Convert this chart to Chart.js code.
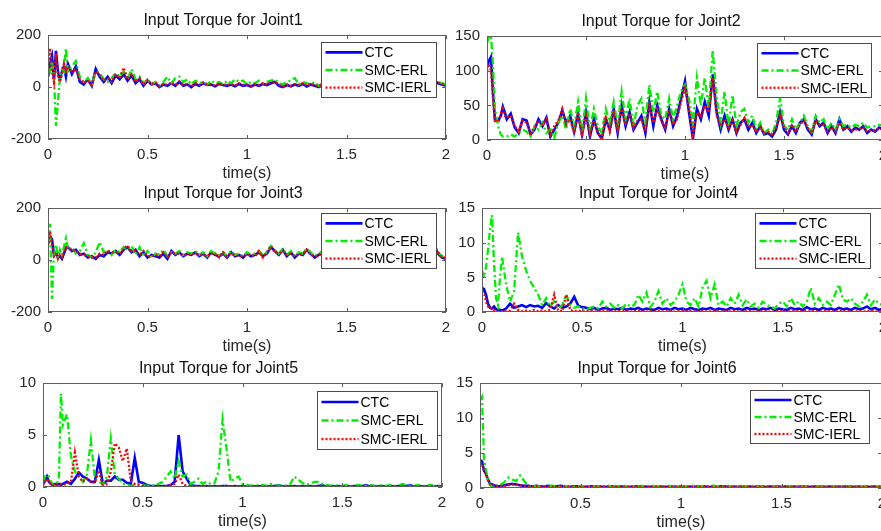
<!DOCTYPE html>
<html>
<head>
<meta charset="utf-8">
<script src="https://cdn.jsdelivr.net/npm/chart.js@4.4.1/dist/chart.umd.min.js"></script>
<style>
  html, body { margin: 0; padding: 0; background: #fff; }
  body { width: 881px; height: 531px; overflow: hidden; position: relative; }
  canvas { position: absolute; }
</style>
</head>
<body>
<canvas id="c1"></canvas>
<canvas id="c2"></canvas>
<canvas id="c3"></canvas>
<canvas id="c4"></canvas>
<canvas id="c5"></canvas>
<canvas id="c6"></canvas>
<script>
// time samples (s): 0.01 step up to 0.1, then 0.02 step
const t = [0, 0.01, 0.02, 0.03, 0.04, 0.05, 0.06, 0.07, 0.08, 0.09, 0.1,
  0.12, 0.14, 0.16, 0.18, 0.2, 0.22, 0.24, 0.26, 0.28, 0.3,
  0.32, 0.34, 0.36, 0.38, 0.4, 0.42, 0.44, 0.46, 0.48, 0.5,
  0.52, 0.54, 0.56, 0.58, 0.6, 0.62, 0.64, 0.66, 0.68, 0.7,
  0.72, 0.74, 0.76, 0.78, 0.8, 0.82, 0.84, 0.86, 0.88, 0.9,
  0.92, 0.94, 0.96, 0.98, 1.0, 1.02, 1.04, 1.06, 1.08, 1.1,
  1.12, 1.14, 1.16, 1.18, 1.2, 1.22, 1.24, 1.26, 1.28, 1.3,
  1.32, 1.34, 1.36, 1.38, 1.4, 1.42, 1.44, 1.46, 1.48, 1.5,
  1.52, 1.54, 1.56, 1.58, 1.6, 1.62, 1.64, 1.66, 1.68, 1.7,
  1.72, 1.74, 1.76, 1.78, 1.8, 1.82, 1.84, 1.86, 1.88, 1.9,
  1.92, 1.94, 1.96, 1.98, 2.0];

const seriesNames = ['CTC', 'SMC-ERL', 'SMC-IERL'];
const titles = ['Input Torque for Joint1', 'Input Torque for Joint2', 'Input Torque for Joint3',
  'Input Torque for Joint4', 'Input Torque for Joint5', 'Input Torque for Joint6'];
const xTicks = [0, 0.5, 1, 1.5, 2];
const yTicks1 = [-200, 0, 200];
const yTicks2 = [0, 50, 100, 150];
const yTicks3 = [-200, 0, 200];
const yTicks4 = [0, 5, 10, 15];
const yTicks5 = [0, 5, 10];
const yTicks6 = [0, 5, 10, 15];

// Joint 1
const j1Ctc = [40, 90, 120, 30, 140, 60, 30, 60, 80, 40, 90,
  50, 80, 20, 10, 30, 5, 70, 40, 20, 40,
  15, 45, 30, 50, 25, 45, 15, 30, 5, 25,
  10, 15, 0, 10, 5, 15, 5, 20, 5, 10,
  0, 12, 5, 15, 8, 10, 3, 12, 8, 5,
  10, 3, 12, 5, 8, 2, 10, 5, 12, 8,
  15, 20, 5, 0, 8, 3, 10, 5, 12, 2,
  10, 5, 0, 8, 5, 10, 3, 8, 5, 10,
  5, 12, 3, 8, 10, 5, 12, 3, 8, 5,
  10, 5, 8, 12, 3, 8, 5, 10, 15, 8,
  20, 25, 15, 10, 5];
const j1Erl = [70, 60, 100, 40, -150, -60, 40, 70, 60, 150, 60,
  80, 100, 40, 20, 35, 10, 60, 55, 30, 20,
  35, 55, 40, 60, 30, 70, 30, 40, 15, 30,
  10, 20, 5, 20, 40, 15, 35, 40, 20, 30,
  10, 25, 15, 20, 10, 25, 15, 20, 10, 25,
  15, 30, 20, 25, 10, 20, 15, 25, 15, 20,
  25, 30, 15, 10, 20, 25, 35, 10, 20, 15,
  10, 20, 5, 15, 20, 10, 15, 10, 15, 20,
  10, 20, 15, 10, 20, 15, 10, 15, 20, 10,
  15, 20, 10, 15, 20, 10, 15, 20, 25, 20,
  30, 25, 20, 15, 10];
const j1Ierl = [60, 150, 60, 20, 130, 40, 20, 50, 90, 60, 80,
  60, 70, 30, 15, 25, 10, 60, 45, 25, 35,
  20, 50, 35, 75, 30, 50, 20, 35, 10, 28,
  12, 18, 3, 12, 8, 18, 8, 22, 8, 12,
  3, 15, 8, 18, 10, 12, 5, 15, 10, 8,
  12, 5, 15, 8, 10, 5, 12, 8, 15, 10,
  18, 22, 8, 3, 10, 5, 12, 8, 15, 5,
  12, 8, 3, 10, 8, 12, 5, 10, 8, 12,
  8, 15, 5, 10, 12, 8, 15, 5, 10, 8,
  12, 8, 10, 15, 5, 10, 8, 12, 18, 10,
  25, 28, 18, 12, 8];

// Joint 2
const j2Ctc = [105, 115, 120, 70, 30, 28, 30, 35, 48, 40, 30,
  38, 18, 10, 30, 28, 8, 15, 30, 20, 32,
  5, 15, 25, 42, 25, 35, 12, 38, 8, 40,
  5, 30, 10, 2, 30, 15, 45, 10, 50, 20,
  40, 15, 25, 35, 10, 55, 20, 50, 30, 15,
  45, 20, 35, 60, 85, 40, 2, 45, 30, 55,
  35, 95, 40, 15, 35, 15, 30, 10, 25, 30,
  15, 25, 10, 20, 8, 10, 5, 15, 40, 15,
  8, 20, 10, 25, 30, 15, 8, 30, 20, 25,
  10, 20, 10, 30, 15, 20, 12, 18, 15, 20,
  10, 15, 12, 18, 15];
const j2Erl = [140, 150, 150, 110, 45, 30, 15, 8, 5, 5, 5,
  8, 5, 10, 15, 12, 5, 20, 15, 25, 10,
  15, 3, 25, 35, 15, 45, 20, 55, 10, 60,
  15, 45, 20, 10, 45, 25, 55, 20, 70, 30,
  60, 20, 50, 60, 25, 80, 40, 70, 35, 30,
  60, 30, 50, 70, 80, 60, 25, 90, 50, 90,
  45, 130, 60, 25, 70, 20, 65, 20, 40, 45,
  25, 35, 15, 25, 10, 15, 8, 25, 60, 20,
  15, 30, 15, 25, 35, 20, 12, 35, 25, 30,
  15, 25, 15, 30, 20, 22, 18, 22, 20, 25,
  18, 20, 20, 22, 20];
const j2Ierl = [100, 110, 100, 60, 25, 30, 28, 38, 45, 35, 32,
  35, 20, 12, 28, 25, 10, 18, 28, 22, 30,
  8, 20, 28, 45, 22, 30, 10, 40, 5, 35,
  8, 28, 12, 0, 35, 12, 40, 15, 45, 22,
  38, 18, 28, 30, 12, 50, 25, 45, 28, 18,
  40, 22, 30, 55, 75, 45, 8, 40, 35, 50,
  40, 90, 35, 20, 30, 18, 28, 12, 22, 32,
  18, 22, 12, 18, 10, 12, 8, 18, 35, 18,
  10, 22, 12, 22, 28, 18, 10, 28, 22, 22,
  12, 18, 12, 25, 15, 18, 14, 15, 16, 18,
  12, 14, 14, 16, 15];

// Joint 3
const j3Ctc = [60, 90, 80, 20, 30, 10, 15, 5, 25, 45, 50,
  35, 40, 20, 25, 10, 15, 5, 20, 15, 30,
  25, 35, 20, 40, 50, 30, 40, 15, 30, 10,
  20, 15, 10, 25, 5, 35, 20, 30, 15, 25,
  20, 30, 15, 25, 10, 30, 20, 15, 25, 10,
  30, 15, 20, 10, 25, 15, 20, 30, 15, 25,
  50, 35, 20, 40, 15, 30, 10, 25, 20, 40,
  25, 10, 20, 30, 15, 25, 20, 10, 25, 15,
  20, 30, 15, 25, 10, 20, 30, 15, 25, 20,
  15, 25, 20, 30, 15, 20, 25, 15, 30, 20,
  35, 55, 25, 10, 5];
const j3Erl = [70, 140, -150, 20, 60, 10, 40, 20, 50, 83, 40,
  50, 25, 35, 65, 20, 10, 30, 70, 30, 40,
  20, 40, 30, 50, 40, 55, 20, 50, 15, 35,
  10, 25, 20, 40, 15, 30, 25, 35, 20, 30,
  25, 35, 20, 30, 15, 35, 25, 20, 30, 15,
  35, 20, 25, 15, 30, 20, 25, 35, 20, 30,
  55, 40, 25, 45, 20, 35, 15, 30, 25, 45,
  30, 15, 25, 35, 20, 30, 25, 15, 30, 20,
  25, 35, 20, 30, 15, 25, 35, 20, 30, 25,
  20, 30, 25, 35, 20, 25, 30, 20, 35, 25,
  40, 60, 30, 15, 10];
const j3Ierl = [50, 110, 60, 15, 25, 5, 20, 10, 30, 50, 45,
  40, 35, 25, 20, 15, 10, 10, 25, 20, 35,
  30, 30, 25, 45, 55, 35, 35, 20, 35, 15,
  15, 20, 15, 30, 10, 30, 25, 25, 20, 20,
  25, 25, 20, 20, 15, 25, 25, 10, 30, 15,
  25, 20, 15, 15, 20, 20, 15, 35, 10, 30,
  55, 30, 25, 35, 20, 25, 15, 20, 25, 40,
  20, 15, 15, 35, 10, 30, 15, 15, 20, 20,
  15, 35, 10, 30, 15, 15, 35, 10, 30, 15,
  20, 20, 25, 25, 20, 15, 30, 10, 35, 15,
  40, 60, 30, 12, 8];

// Joint 4
const j4Ctc = [3.5, 3.3, 2.5, 1.2, 0.6, 0.5, 0.8, 0.4, 0.3, 0.3, 0.2,
  0.5, 1.2, 0.6, 0.8, 1.0, 0.7, 1.0, 0.8, 0.9, 0.6,
  1.3, 0.8, 0.5, 1.0, 0.6, 0.8, 1.2, 2.2, 0.9, 0.7,
  0.6, 0.4, 0.6, 0.3, 0.5, 0.6, 0.3, 0.5, 0.4, 0.6,
  0.3, 0.5, 0.4, 0.6, 0.3, 0.5, 0.4, 0.3, 0.6, 0.4,
  0.5, 0.3, 0.6, 0.4, 0.5, 0.3, 0.6, 0.4, 0.3, 0.5,
  0.4, 0.6, 0.3, 0.5, 0.4, 0.3, 0.6, 0.4, 0.5, 0.3,
  0.6, 0.4, 0.5, 0.3, 0.5, 0.4, 0.6, 0.3, 0.5, 0.4,
  0.3, 0.6, 0.4, 0.5, 0.3, 0.7, 0.4, 0.5, 0.3, 0.6,
  0.4, 0.5, 0.3, 0.6, 0.4, 0.5, 0.3, 0.6, 0.4, 0.5,
  0.8, 0.4, 0.6, 0.3, 0.5];
const j4Erl = [6, 5, 6.5, 9, 12, 14, 7, 2, 1, 5, 8,
  4, 1.5, 3, 11.5, 8, 6, 4.5, 3.5, 2.5, 1,
  2, 0.8, 1.5, 0.5, 1, 2.5, 1, 0.6, 0.8, 0.5,
  0.4, 0.6, 0.8, 0.5, 1.5, 0.8, 1.2, 0.6, 1.0, 0.5,
  1.2, 0.8, 1.0, 2.5, 1.5, 2.8, 0.7, 1.5, 3.0, 1.2,
  2.0, 1.0, 1.5, 2.5, 4.0, 1.5, 1.0, 2.0, 0.8, 3.5,
  4.5, 2.0, 4.0, 1.0, 1.5, 0.8, 2.0, 1.2, 2.5, 1.0,
  1.8, 0.8, 1.2, 0.6, 1.5, 1.0, 0.8, 0.5, 1.2, 1.5,
  0.8, 2.0, 1.0, 1.5, 0.8, 1.5, 3.5, 1.2, 2.0, 1.0,
  1.5, 1.0, 2.5, 4.0, 1.8, 1.5, 2.0, 1.2, 0.8, 1.5,
  2.5, 1.0, 1.8, 1.2, 1.0];
const j4Ierl = [3.0, 2.8, 1.5, 0.8, 0.5, 0.6, 0.3, 0.1, 0.05, 0.1, 0.05,
  0.1, 0.2, 1.2, 0.3, 0.1, 0.2, 0.1, 0.3, 0.1, 0.2,
  0.1, 0.3, 2.5, 0.2, 0.1, 2.5, 0.3, 0.1, 0.2, 0.1,
  0.1, 0.2, 0.05, 0.15, 0.1, 0.2, 0.05, 0.1, 0.15, 0.1,
  0.2, 0.05, 0.1, 0.15, 0.1, 0.05, 0.2, 0.1, 0.15, 0.05,
  0.1, 0.2, 0.05, 0.1, 0.15, 0.1, 0.2, 0.05, 0.1, 0.15,
  0.05, 0.1, 0.2, 0.1, 0.05, 0.15, 0.1, 0.2, 0.05, 0.1,
  0.15, 0.1, 0.05, 0.2, 0.1, 0.15, 0.05, 0.1, 0.2, 0.1,
  0.1, 0.05, 0.15, 0.1, 0.2, 0.05, 0.1, 0.15, 0.1, 0.05,
  0.2, 0.1, 0.05, 0.15, 0.1, 0.2, 0.1, 0.05, 0.15, 0.1,
  0.1, 0.2, 0.05, 0.1, 0.15];

// Joint 5
const j5Ctc = [0.3, 0.6, 1.0, 0.5, 0.3, 0.2, 0.3, 0.2, 0.3, 0.2, 0.3,
  0.5, 0.3, 0.8, 1.4, 1.0, 0.8, 0.5, 0.5, 2.6, 0.3,
  0.6, 0.6, 1.0, 0.7, 0.7, 0.4, 0.3, 2.8, 0.5, 0.4,
  0.2, 0.1, 0.1, 0.1, 0.1, 0.1, 0.2, 0.5, 5.0, 1.5,
  0.8, 0.2, 0.1, 0.1, 0.05, 0.1, 0.05, 0.1, 0.05, 0.1,
  0.1, 0.05, 0.1, 0.05, 0.1, 0.05, 0.1, 0.05, 0.1, 0.05,
  0.1, 0.05, 0.1, 0.15, 0.05, 0.1, 0.05, 0.1, 0.05, 0.1,
  0.05, 0.1, 0.05, 0.1, 0.15, 0.05, 0.1, 0.05, 0.1, 0.05,
  0.1, 0.05, 0.1, 0.05, 0.1, 0.15, 0.05, 0.1, 0.05, 0.1,
  0.05, 0.1, 0.05, 0.1, 0.05, 0.1, 0.15, 0.05, 0.1, 0.05,
  0.05, 0.1, 0.05, 0.1, 0.05];
const j5Erl = [0.5, 1.0, 1.2, 1.0, 0.5, 0.3, 0.2, 0.3, 1.0, 9.0, 6.0,
  7.0, 3.0, 1.5, 1.0, 0.5, 1.2, 4.5, 0.8, 0.5, 0.3,
  1.0, 4.7, 1.2, 0.8, 0.3, 0.2, 0.1, 0.2, 0.3, 0.2,
  0.1, 0.2, 0.1, 0.3, 0.5, 1.0, 1.5, 0.8, 2.5, 1.0,
  1.2, 0.3, 0.5, 0.8, 0.3, 0.5, 0.3, 0.4, 1.5, 6.5,
  3.7, 0.5, 0.8, 1.0, 0.3, 0.2, 0.1, 0.2, 0.1, 0.2,
  0.1, 0.3, 0.2, 0.1, 0.2, 0.1, 0.3, 1.0, 0.7, 0.4,
  0.2, 0.3, 0.5, 0.5, 0.3, 0.2, 0.1, 0.2, 0.1, 0.1,
  0.2, 0.1, 0.1, 0.2, 0.1, 0.1, 0.2, 0.1, 0.1, 0.2,
  0.1, 0.2, 0.1, 0.1, 0.3, 0.2, 0.1, 0.1, 0.2, 0.1,
  0.1, 0.2, 0.1, 0.1, 0.1];
const j5Ierl = [0.2, 0.5, 0.8, 0.5, 0.3, 0.2, 0.3, 0.2, 0.2, 0.3, 0.2,
  0.3, 0.5, 3.3, 1.0, 0.5, 0.8, 0.5, 0.4, 1.6, 0.0,
  0.3, 1.5, 4.2, 3.8, 2.5, 3.7, 0.6, 0.3, 0.2, 0.1,
  0.05, 0.05, 0.05, 0.1, 0.05, 0.1, 0.2, 0.3, 1.2, 0.3,
  0.1, 0.05, 0.05, 0.1, 0.05, 0.05, 0.1, 0.05, 0.05, 0.1,
  0.05, 0.1, 0.05, 0.05, 0.1, 0.05, 0.05, 0.1, 0.05, 0.05,
  0.1, 0.05, 0.05, 0.1, 0.05, 0.05, 0.1, 0.05, 0.1, 0.05,
  0.05, 0.1, 0.05, 0.05, 0.1, 0.05, 0.05, 0.1, 0.05, 0.05,
  0.1, 0.05, 0.05, 0.1, 0.05, 0.05, 0.1, 0.05, 0.05, 0.1,
  0.05, 0.05, 0.1, 0.05, 0.05, 0.1, 0.05, 0.05, 0.1, 0.05,
  0.05, 0.1, 0.05, 0.05, 0.1];

// Joint 6
const j6Ctc = [4.0, 3.8, 2.5, 2.0, 1.2, 0.6, 0.5, 0.4, 0.3, 0.2, 0.3,
  0.4, 0.5, 0.6, 0.5, 0.4, 0.3, 0.3, 0.2, 0.3, 0.2,
  0.2, 0.3, 0.2, 0.25, 0.3, 0.2, 0.15, 0.2, 0.25, 0.2,
  0.15, 0.2, 0.25, 0.15, 0.2, 0.15, 0.2, 0.25, 0.15, 0.2,
  0.2, 0.15, 0.2, 0.25, 0.15, 0.2, 0.15, 0.2, 0.15, 0.2,
  0.15, 0.2, 0.25, 0.15, 0.2, 0.15, 0.2, 0.15, 0.2, 0.25,
  0.2, 0.15, 0.2, 0.15, 0.25, 0.2, 0.15, 0.2, 0.15, 0.2,
  0.15, 0.2, 0.15, 0.2, 0.25, 0.15, 0.2, 0.15, 0.2, 0.15,
  0.2, 0.15, 0.2, 0.15, 0.2, 0.25, 0.15, 0.2, 0.15, 0.2,
  0.15, 0.2, 0.15, 0.2, 0.15, 0.2, 0.25, 0.15, 0.2, 0.15,
  0.2, 0.15, 0.2, 0.15, 0.2];
const j6Erl = [12.5, 13.0, 4.0, 2.5, 1.2, 0.5, 0.1, 0.2, 0.3, 0.5, 0.4,
  0.8, 1.5, 1.2, 1.0, 1.8, 1.0, 0.3, 0.2, 0.3, 0.2,
  0.2, 0.3, 0.35, 0.25, 0.2, 0.3, 0.2, 0.15, 0.2, 0.3,
  0.2, 0.25, 0.3, 0.2, 0.15, 0.25, 0.3, 0.2, 0.25, 0.2,
  0.3, 0.2, 0.25, 0.2, 0.3, 0.25, 0.2, 0.3, 0.2, 0.25,
  0.2, 0.3, 0.25, 0.2, 0.3, 0.2, 0.25, 0.3, 0.2, 0.25,
  0.3, 0.2, 0.35, 0.2, 0.25, 0.2, 0.3, 0.2, 0.25, 0.2,
  0.25, 0.2, 0.3, 0.2, 0.25, 0.3, 0.2, 0.25, 0.2, 0.3,
  0.2, 0.25, 0.2, 0.3, 0.2, 0.25, 0.2, 0.3, 0.25, 0.2,
  0.3, 0.2, 0.25, 0.2, 0.3, 0.2, 0.25, 0.2, 0.3, 0.2,
  0.25, 0.2, 0.3, 0.2, 0.25];
const j6Ierl = [3.5, 3.6, 2.4, 2.0, 1.0, 0.5, 0.5, 0.3, 0.3, 0.3, 0.3,
  0.3, 0.4, 0.5, 0.5, 0.4, 0.3, 0.3, 0.2, 0.3, 0.2,
  0.2, 0.25, 0.2, 0.2, 0.3, 0.15, 0.2, 0.25, 0.2, 0.15,
  0.2, 0.15, 0.2, 0.25, 0.15, 0.2, 0.15, 0.2, 0.2, 0.15,
  0.15, 0.2, 0.15, 0.2, 0.2, 0.15, 0.2, 0.15, 0.2, 0.15,
  0.2, 0.15, 0.2, 0.15, 0.2, 0.2, 0.15, 0.2, 0.15, 0.2,
  0.15, 0.2, 0.15, 0.2, 0.15, 0.2, 0.2, 0.15, 0.2, 0.15,
  0.2, 0.15, 0.2, 0.15, 0.2, 0.15, 0.2, 0.2, 0.15, 0.2,
  0.15, 0.2, 0.15, 0.2, 0.15, 0.2, 0.15, 0.2, 0.2, 0.15,
  0.2, 0.15, 0.2, 0.15, 0.2, 0.15, 0.2, 0.15, 0.2, 0.2,
  0.15, 0.2, 0.15, 0.2, 0.15];

// MATLAB-like box with inward ticks
const axesBox = {
  id: 'axesBox',
  afterDraw(chart) {
    const { ctx, chartArea: a, scales } = chart;
    ctx.save();
    ctx.strokeStyle = '#5e5e5e';
    ctx.lineWidth = 1;
    ctx.strokeRect(Math.round(a.left) + 0.5, Math.round(a.top) + 0.5,
      Math.round(a.right - a.left) - 1, Math.round(a.bottom - a.top) - 1);
    ctx.beginPath();
    scales.x.ticks.forEach(tk => {
      const px = Math.round(scales.x.getPixelForValue(tk.value)) + 0.5;
      ctx.moveTo(px, a.bottom); ctx.lineTo(px, a.bottom - 4);
      ctx.moveTo(px, a.top); ctx.lineTo(px, a.top + 4);
    });
    scales.y.ticks.forEach(tk => {
      const py = Math.round(scales.y.getPixelForValue(tk.value)) + 0.5;
      ctx.moveTo(a.left, py); ctx.lineTo(a.left + 4, py);
      ctx.moveTo(a.right, py); ctx.lineTo(a.right - 4, py);
    });
    ctx.stroke();
    ctx.restore();
  }
};

// legend box drawn inside the plot, top-right
const boxLegend = {
  id: 'boxLegend',
  afterDatasetsDraw(chart, args, opts) {
    const { ctx, chartArea: a } = chart;
    const x = Math.round(a.right - opts.right - opts.width) + 0.5;
    const y = Math.round(a.top + opts.top) + 0.5;
    ctx.save();
    ctx.fillStyle = '#fff';
    ctx.fillRect(x, y, opts.width, opts.height);
    ctx.strokeStyle = '#4a4a4a';
    ctx.lineWidth = 1;
    ctx.strokeRect(x, y, opts.width, opts.height);
    ctx.font = '14px "Liberation Sans", Arial, sans-serif';
    ctx.textBaseline = 'middle';
    chart.data.datasets.forEach((ds, i) => {
      const ly = y + opts.height * (0.18 + i * 0.32);
      ctx.beginPath();
      ctx.strokeStyle = ds.borderColor;
      ctx.lineWidth = ds.borderWidth;
      ctx.setLineDash(ds.borderDash || []);
      ctx.moveTo(x + 4, ly);
      ctx.lineTo(x + 41, ly);
      ctx.stroke();
      ctx.setLineDash([]);
      ctx.fillStyle = '#000';
      ctx.fillText(ds.label, x + 43, ly + 1);
    });
    ctx.restore();
  }
};

function makeChart(id, rect, title, yTicks, series, legend) {
  const cv = document.getElementById(id);
  cv.width = rect.r - rect.l + 60;
  cv.height = rect.b - rect.t + 80;
  cv.style.left = (rect.l - 48) + 'px';
  cv.style.top = (rect.t - 35) + 'px';
  const styles = [
    { borderColor: '#0000ff', borderWidth: 2.6, borderDash: [], order: 3 },
    { borderColor: '#00ee00', borderWidth: 2.3, borderDash: [7, 3, 2, 3], order: 2 },
    { borderColor: '#ff0000', borderWidth: 2.3, borderDash: [2, 2], order: 1 }
  ];
  const tickFont = { family: '"Liberation Sans", Arial, sans-serif', size: 15 };
  return new Chart(cv, {
    type: 'line',
    data: {
      datasets: series.map((vals, i) => Object.assign({
        label: seriesNames[i],
        data: t.map((x, k) => ({ x: x, y: vals[k] })),
        pointRadius: 0,
        tension: 0,
        fill: false
      }, styles[i]))
    },
    options: {
      responsive: false,
      devicePixelRatio: 1,
      animation: false,
      layout: { padding: { left: 0, right: 12, top: 0, bottom: 0 } },
      scales: {
        x: {
          type: 'linear',
          min: xTicks[0],
          max: xTicks[xTicks.length - 1],
          afterBuildTicks: s => { s.ticks = xTicks.map(v => ({ value: v })); },
          afterFit: s => { s.height = 45; s.paddingLeft = 0; s.paddingRight = 0; },
          grid: { display: false, drawTicks: false },
          border: { display: false },
          ticks: { padding: 7, color: '#262626', font: tickFont, maxRotation: 0,
            callback: v => String(v) },
          title: {
            display: true, text: 'time(s)', color: '#262626',
            font: { family: '"Liberation Sans", Arial, sans-serif', size: 16 },
            padding: { top: 0, bottom: 1 }
          }
        },
        y: {
          min: yTicks[0],
          max: yTicks[yTicks.length - 1],
          afterBuildTicks: s => { s.ticks = yTicks.map(v => ({ value: v })); },
          afterFit: s => { s.width = 48; s.paddingTop = 0; s.paddingBottom = 0; },
          grid: { display: false, drawTicks: false },
          border: { display: false },
          ticks: { padding: 7, color: '#262626', font: tickFont, callback: v => String(v) }
        }
      },
      plugins: {
        legend: { display: false },
        tooltip: { enabled: false },
        title: {
          display: true, text: title, color: '#111',
          font: { family: '"Liberation Sans", Arial, sans-serif', size: 16, weight: 'normal' },
          padding: { top: 11, bottom: 5 }
        },
        boxLegend: legend
      }
    },
    plugins: [axesBox, boxLegend]
  });
}

makeChart('c1', { l: 48, t: 35, r: 446, b: 139 }, titles[0], yTicks1, [j1Ctc, j1Erl, j1Ierl],
  { right: 10, top: 7, width: 115, height: 55 });
makeChart('c2', { l: 487, t: 36, r: 883, b: 140 }, titles[1], yTicks2, [j2Ctc, j2Erl, j2Ierl],
  { right: 12, top: 7, width: 114, height: 54 });
makeChart('c3', { l: 48, t: 208, r: 446, b: 312 }, titles[2], yTicks3, [j3Ctc, j3Erl, j3Ierl],
  { right: 10, top: 5, width: 115, height: 55 });
makeChart('c4', { l: 482, t: 208, r: 883, b: 312 }, titles[3], yTicks4, [j4Ctc, j4Erl, j4Ierl],
  { right: 13, top: 5, width: 115, height: 55 });
makeChart('c5', { l: 43, t: 383, r: 442, b: 487 }, titles[4], yTicks5, [j5Ctc, j5Erl, j5Ierl],
  { right: 5, top: 8, width: 120, height: 58 });
makeChart('c6', { l: 480, t: 383, r: 882, b: 488 }, titles[5], yTicks6, [j6Ctc, j6Erl, j6Ierl],
  { right: 13, top: 7, width: 119, height: 53 });
</script>
</body>
</html>
